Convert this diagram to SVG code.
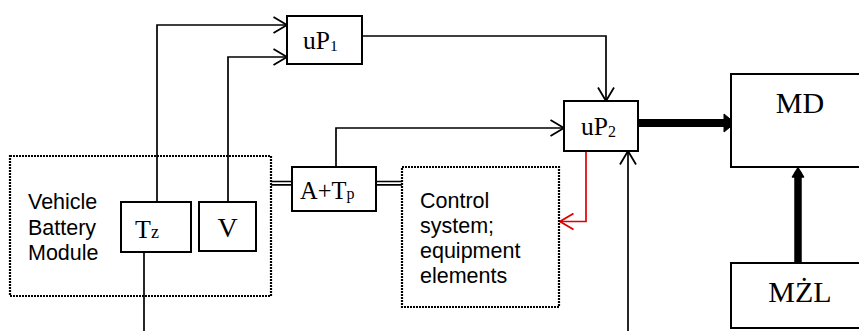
<svg xmlns="http://www.w3.org/2000/svg" width="859" height="331" viewBox="0 0 859 331">
<style>
.box{fill:#fff;stroke:#000;stroke-width:2}
.dot{fill:none;stroke:#000;stroke-width:2.2;stroke-dasharray:2 1}
.ln{fill:none;stroke:#000;stroke-width:1.7}
.red{fill:none;stroke:#e00000;stroke-width:1.7}
.serif{font-family:"Liberation Serif","Times New Roman",serif;fill:#000}
.sans{font-family:"Liberation Sans",Arial,sans-serif;fill:#000;font-size:21.5px}
</style>
<defs>
<marker id="open" markerUnits="userSpaceOnUse" viewBox="0 0 16 18" markerWidth="16" markerHeight="18" refX="14.5" refY="9" orient="auto">
<path d="M1,1 L14.5,9 L1,17" fill="none" stroke="#000" stroke-width="1.8"/>
</marker>
<marker id="openred" markerUnits="userSpaceOnUse" viewBox="0 0 16 18" markerWidth="16" markerHeight="18" refX="14.5" refY="9" orient="auto">
<path d="M1,1 L14.5,9 L1,17" fill="none" stroke="#e00000" stroke-width="1.8"/>
</marker>
</defs>
<rect width="859" height="331" fill="#fff"/>

<g id="connectors">
<path class="ln" d="M157,202 V25 H287" marker-end="url(#open)"/>
<path class="ln" d="M228,202 V57 H287" marker-end="url(#open)"/>
<path class="ln" d="M362,36 H606 V101" marker-end="url(#open)"/>
<path class="ln" d="M336,167 V128 H564" marker-end="url(#open)"/>
<path class="ln" d="M628,331 V151" marker-end="url(#open)"/>
<path class="ln" d="M144,252 V331"/>
<path class="red" d="M586,151 V221.5 H560" marker-end="url(#openred)"/>
<path class="ln" stroke-width="1.2" d="M271,181.5 H292 M271,184.8 H292 M376,181.5 H402 M376,184.8 H402"/>
<line x1="638" y1="123" x2="726" y2="123" stroke="#000" stroke-width="8"/>
<path d="M724,114 L735,123 L724,132 Z" fill="#000" stroke="#000" stroke-width="1" stroke-linejoin="round"/>
<line x1="798" y1="263" x2="798" y2="174" stroke="#000" stroke-width="7.5" stroke-linecap="round"/>
<path d="M792.5,177 L798,168 L803.5,177 Z" fill="#000" stroke="#000" stroke-width="1.5" stroke-linejoin="round"/>
</g>

<g id="battery-module">
<rect class="dot" x="10" y="156" width="261" height="140"/>
<text class="sans" x="28" y="209">Vehicle</text>
<text class="sans" x="28" y="234.5">Battery</text>
<text class="sans" x="28" y="260">Module</text>
</g>

<g id="Tz">
<rect class="box" x="121" y="202" width="70" height="50"/>
<text class="serif" x="135" y="237.5" font-size="26">T<tspan font-size="18" dy="0.5">z</tspan></text>
</g>

<g id="V">
<rect class="box" x="199" y="202" width="57" height="49"/>
<text class="serif" x="227.5" y="237" font-size="28" text-anchor="middle">V</text>
</g>

<g id="uP1">
<rect class="box" x="287" y="16" width="75" height="48"/>
<text class="serif" x="303" y="49" font-size="25.5">uP<tspan font-size="15.5" dy="1.5">1</tspan></text>
</g>

<g id="ATp">
<rect class="box" x="292" y="167" width="84" height="44"/>
<text class="serif" x="300" y="199" font-size="24.5">A+T<tspan font-size="16" dy="0">p</tspan></text>
</g>

<g id="control-system">
<rect class="dot" x="402" y="167" width="157" height="140"/>
<text class="sans" x="420" y="208">Control</text>
<text class="sans" x="420" y="233">system;</text>
<text class="sans" x="420" y="258">equipment</text>
<text class="sans" x="420" y="283">elements</text>
</g>

<g id="uP2">
<rect class="box" x="564" y="101" width="74" height="50"/>
<text class="serif" x="581" y="135" font-size="25.5">uP<tspan font-size="16" dy="2">2</tspan></text>
</g>

<g id="MD">
<rect class="box" x="731" y="74" width="140" height="93"/>
<text class="serif" x="800" y="113" font-size="30" text-anchor="middle">MD</text>
</g>

<g id="MZL">
<rect class="box" x="731" y="263" width="140" height="65"/>
<text class="serif" x="800" y="302" font-size="30" text-anchor="middle">MŻL</text>
</g>
</svg>
